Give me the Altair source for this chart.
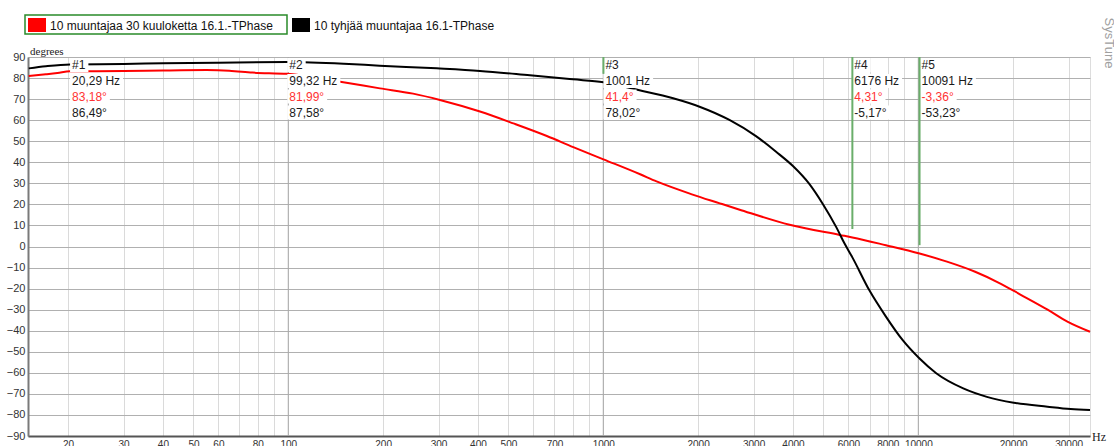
import math
import altair as alt
import pandas as pd

# --- measured phase curves -------------------------------------------------
red_freq = [15, 17, 18.5, 20.29, 30, 40, 55, 65, 77, 99.32, 149.5, 195.5, 249,
            303, 406, 518, 662, 803, 1001, 1309, 1476, 1900, 2343, 2695, 3903,
            5625, 6176, 7893, 10091, 12330, 15150, 17890, 21080, 25730, 29740,
            35080]
red_phase = [81.0, 81.8, 82.4, 83.18, 83.3, 83.6, 83.8, 83.5, 82.6, 81.99, 78.0,
             75.1, 72.6, 69.6, 64.1, 58.5, 52.5, 47.2, 41.4, 34.3, 30.9, 24.9,
             20.5, 17.6, 10.3, 5.5, 4.31, 0.6, -3.36, -7.2, -12.0, -17.0, -22.8,
             -30.0, -35.7, -40.5]

black_freq = [15, 17, 20.29, 30, 40, 60, 99.32, 150, 195, 296, 406, 585, 801,
              1001, 1293, 1666, 2021, 2514, 3053, 3536, 4000, 4514, 4976, 5490,
              5833, 6176, 6986, 7893, 8911, 10091, 11400, 13890, 16510, 20090,
              25730, 30450, 35080]
black_phase = [84.6, 85.6, 86.49, 86.7, 87.0, 87.3, 87.58, 86.8, 85.9, 84.6,
               83.4, 81.3, 79.4, 78.02, 74.3, 70.4, 66.4, 60.1, 52.4, 45.0, 38.2,
               29.6, 20.2, 9.2, 1.4, -5.17, -20.7, -33.3, -44.4, -53.23, -60.2,
               -67.4, -71.4, -74.2, -76.1, -77.2, -77.7]

series_names = ["10 muuntajaa 30 kuuloketta 16.1.-TPhase",
                "10 tyhjää muuntajaa 16.1-TPhase"]
series_colors = ["#ff0000", "#000000"]

# --- cursors ---------------------------------------------------------------
marker_ids = ["#1", "#2", "#3", "#4", "#5"]
marker_freq = [20.29, 99.32, 1001, 6176, 10091]
marker_red = [83.18, 81.99, 41.4, 4.31, -3.36]
marker_black = [86.49, 87.58, 78.02, -5.17, -53.23]

# --- axes ------------------------------------------------------------------
x_labels = [20, 30, 40, 50, 60, 80, 100, 200, 300, 400, 500, 700, 1000, 2000,
            3000, 4000, 6000, 8000, 10000, 20000, 30000]
x_grid = [m * 10 ** e for e in range(1, 5) for m in range(1, 10)
          if 20 <= m * 10 ** e <= 30000]
decades = [100, 1000, 10000]
y_ticks = list(range(-90, 91, 10))

FREQ_LO, FREQ_HI = 14.92, 35080
W, H = 1062, 379
PX_PER_DECADE = W / math.log10(FREQ_HI / FREQ_LO)
FONT = "Liberation Sans"

x_scale = alt.Scale(type="log", domain=[FREQ_LO, FREQ_HI], nice=False)
y_scale = alt.Scale(domain=[-90, 90], nice=False)

x_axis = alt.Axis(values=x_grid, grid=True, gridColor="#dadada", gridWidth=1,
                  tickSize=0, labelPadding=3, labelFontSize=10, labelFont=FONT,
                  labelColor="#333", labelFlush=False, labelOverlap=False,
                  domainColor="#555", domainWidth=2, title=None,
                  labelExpr="indexof(%s, datum.value) >= 0 ? datum.value : ''"
                            % str(x_labels))
y_axis = alt.Axis(values=y_ticks, grid=True, gridColor="#b0b0b0", gridWidth=1,
                  tickSize=0, labelPadding=3, labelFontSize=11, labelFont=FONT,
                  labelColor="#333", labelFlush=False, labelOverlap=False,
                  domainColor="#7a7a7a", domainWidth=2, title=None)


def X(field):
    return alt.X(field, scale=x_scale, axis=x_axis, title=None)


def Y(field):
    return alt.Y(field, scale=y_scale, axis=y_axis, title=None)


curves = pd.concat([
    pd.DataFrame({"freq": red_freq, "phase": red_phase, "series": series_names[0]}),
    pd.DataFrame({"freq": black_freq, "phase": black_phase, "series": series_names[1]}),
])


def fmt(v):
    s = f"{v}"
    if s.endswith(".0"):
        s = s[:-2]
    return s.replace(".", ",")


CHAR_W = {",": 3.33, " ": 3.33, "H": 8.67, "z": 6.0, "#": 6.67, "°": 4.8, "-": 4.0}


def text_width(s):
    return sum(CHAR_W.get(c, 6.67) for c in s)


rows = []
for mid, f, r, b in zip(marker_ids, marker_freq, marker_red, marker_black):
    lines = [mid, f"{fmt(f)} Hz", f"{fmt(r)}°", f"{fmt(b)}°"]
    row = {"freq": f, "top": 90, "end": min(90, max(r, b) + 4)}
    for i, t in enumerate(lines):
        row[f"t{i}"] = t
        row[f"x2_{i}"] = f * 10 ** ((text_width(t) + 5) / PX_PER_DECADE)
    rows.append(row)
markers = pd.DataFrame(rows)

decade_rules = alt.Chart(pd.DataFrame({"freq": decades})).mark_rule(
    color="#a8a8a8", strokeWidth=1).encode(x=X("freq:Q"))

lines = alt.Chart(curves).mark_line(strokeWidth=2, interpolate="monotone").encode(
    x=X("freq:Q"), y=Y("phase:Q"),
    color=alt.Color("series:N", scale=alt.Scale(domain=series_names,
                                                range=series_colors), legend=None),
)

# cursor label blocks: white boxes under each text line
line_y = [8, 24, 39.5, 55.5]
line_colors = ["#1a1a1a", "#1a1a1a", "#ff3333", "#1a1a1a"]
boxes, texts = [], []
base = alt.Chart(markers)
for i, (cy, col) in enumerate(zip(line_y, line_colors)):
    boxes.append(base.mark_rect(color="white").encode(
        x=X("freq:Q"), x2=f"x2_{i}:Q",
        y=alt.value(cy - 7), y2=alt.value(cy + 7)))
    texts.append(base.mark_text(align="left", baseline="middle", dx=2,
                                font=FONT, fontSize=12, color=col).encode(
        x=X("freq:Q"), y=alt.value(cy), text=f"t{i}:N"))

cursor_rules = base.mark_rule(color="#6aae6a", strokeWidth=2).encode(
    x=X("freq:Q"), y=Y("top:Q"), y2="end:Q")

# legend strip above the plot
one = alt.Chart(pd.DataFrame({"k": [0]}))
legend = [
    one.mark_rect(fill="white", stroke="#2a8a2a", strokeWidth=1.5).encode(
        x=alt.value(-3), x2=alt.value(259), y=alt.value(-42), y2=alt.value(-23)),
    one.mark_rect(color=series_colors[0]).encode(
        x=alt.value(0), x2=alt.value(18), y=alt.value(-39), y2=alt.value(-25)),
    one.mark_text(align="left", baseline="middle", font=FONT, fontSize=12,
                  color="#111", text=series_names[0]).encode(
        x=alt.value(22), y=alt.value(-31)),
    one.mark_rect(color=series_colors[1]).encode(
        x=alt.value(264), x2=alt.value(282), y=alt.value(-39), y2=alt.value(-25)),
    one.mark_text(align="left", baseline="middle", font=FONT, fontSize=12,
                  color="#111", text=series_names[1]).encode(
        x=alt.value(286), y=alt.value(-31)),
    one.mark_text(align="left", baseline="middle", font="Liberation Serif",
                  fontSize=11, color="#222", text="degrees").encode(
        x=alt.value(2), y=alt.value(-5)),
    one.mark_text(align="left", baseline="middle", font="Liberation Serif",
                  fontSize=12, color="#222", text="Hz").encode(
        x=alt.value(1064), y=alt.value(380)),
    one.mark_text(align="center", baseline="middle", font=FONT, fontSize=13,
                  color="#a0a0a0", angle=90, text="SysTune").encode(
        x=alt.value(1081), y=alt.value(-14)),
]

chart = alt.layer(decade_rules, lines, *boxes, *texts, cursor_rules, *legend).properties(
    width=W, height=H,
    padding={"left": 28, "top": 57, "right": 24, "bottom": 10},
    autosize=alt.AutoSizeParams(type="none"),
).configure_view(stroke="#000", strokeWidth=1).configure(background="white")

chart.save("out.html", embed_options={"renderer": "svg", "actions": False})
